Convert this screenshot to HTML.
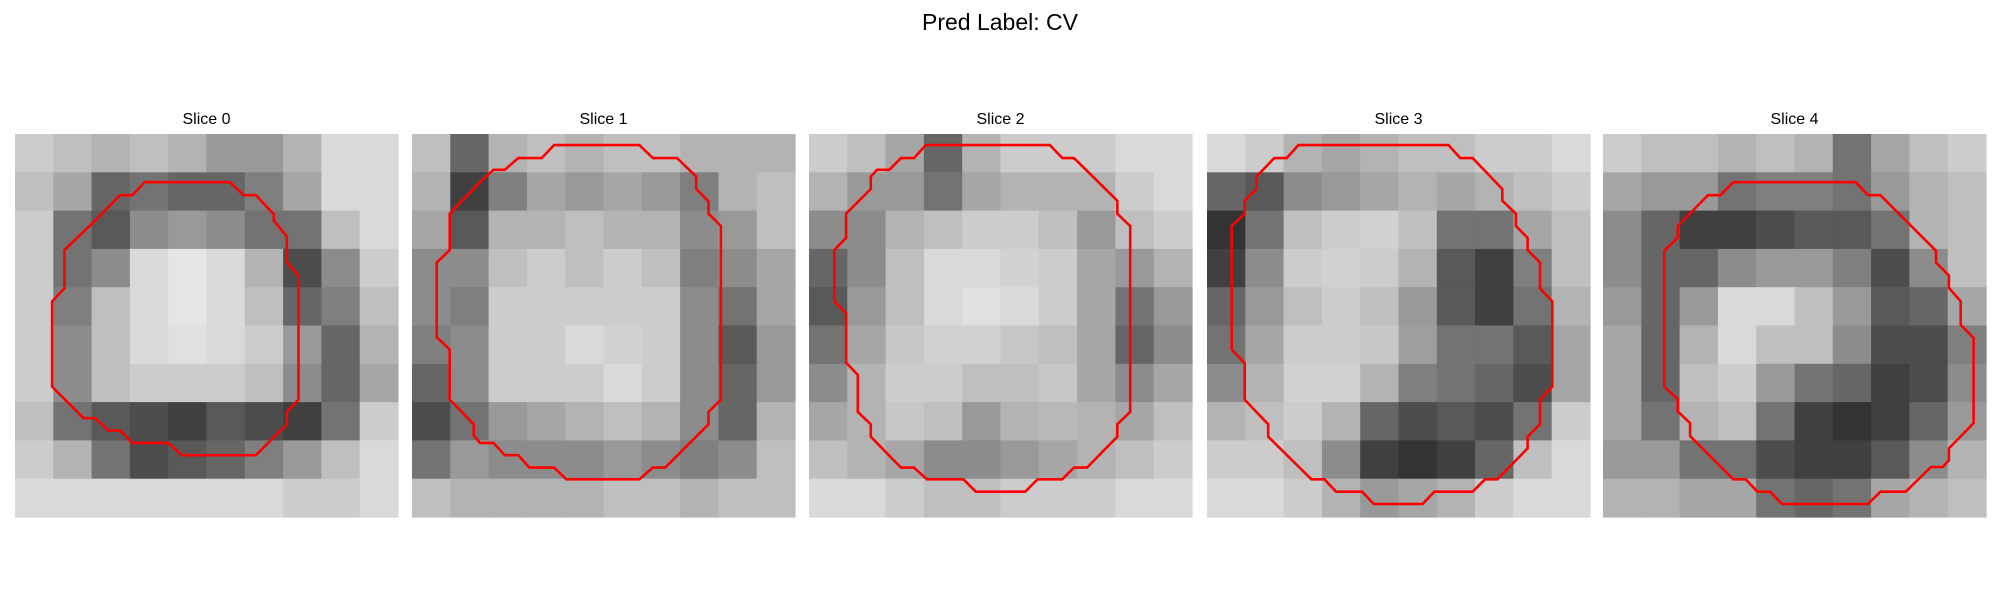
<!DOCTYPE html>
<html><head><meta charset="utf-8">
<style>
html,body{margin:0;padding:0;background:#fff;}
svg{display:block;font-family:"Liberation Sans","DejaVu Sans",sans-serif;}
</style></head>
<body>
<svg id="fig" width="2000" height="600" viewBox="0 0 2000 600">
<text x="1000" y="30" text-anchor="middle" font-size="23" fill="#000">Pred Label: CV</text>
<g id="panels"></g>
</svg>
<script>
const sliceTitles = ["Slice 0","Slice 1","Slice 2","Slice 3","Slice 4"];
// coarse 10x10 brightness grids (0=black,100=white)
const img0 = [
[80,75,70,75,70,60,60,70,85,85],[75,65,40,45,40,40,50,65,85,85],[80,45,35,55,60,55,45,45,75,85],
[80,45,55,85,90,85,70,30,55,80],[80,50,75,85,90,85,75,40,50,75],[80,55,75,85,88,85,80,60,40,70],
[80,55,75,80,80,80,75,55,40,65],[75,45,35,30,25,35,30,25,45,80],[80,70,45,30,35,40,50,60,75,85],
[85,85,85,85,85,85,85,80,80,85]];
const img1 = [
[75,40,70,75,70,75,75,70,70,70],[70,25,50,65,60,65,60,50,70,75],[65,35,70,70,75,70,70,55,60,75],
[55,55,75,80,75,80,75,50,55,65],[55,50,80,80,80,80,80,55,45,65],[50,55,80,80,85,82,80,55,35,60],
[40,55,80,80,80,85,80,55,40,60],[30,45,60,65,70,75,70,55,40,70],[45,60,55,55,55,60,55,50,55,75],
[75,70,70,70,70,75,75,70,75,75]];
const img2 = [
[80,75,65,40,70,80,80,80,85,85],[70,60,60,45,65,70,70,70,80,85],[55,55,70,75,80,80,75,60,75,80],
[40,55,75,85,85,82,80,65,60,70],[35,60,75,85,88,85,80,65,45,60],[45,65,78,82,82,78,75,65,40,55],
[55,70,80,80,75,75,78,65,55,65],[65,70,78,75,60,70,72,70,65,75],[75,70,65,55,55,60,65,70,75,80],
[85,85,80,75,75,80,80,80,85,85]];
const img3 = [
[85,80,70,65,70,75,75,80,80,85],[40,35,55,60,65,70,65,70,75,80],[20,45,75,80,82,75,45,45,65,75],
[25,55,80,82,80,70,35,25,50,75],[40,60,75,80,75,60,35,25,45,70],[45,65,80,80,78,62,45,45,35,65],
[55,70,82,82,70,50,45,40,30,65],[70,75,80,70,40,30,35,30,45,80],[80,80,75,55,25,20,25,40,75,85],
[85,85,80,70,60,65,70,80,85,85]];
const img4 = [
[80,75,75,70,75,70,45,65,75,80],[65,60,60,45,50,50,45,60,70,75],[55,40,25,25,30,35,35,45,70,75],
[55,40,40,55,60,60,50,30,55,75],[60,40,60,85,85,75,60,35,40,65],[65,40,70,85,75,75,55,30,30,50],
[65,40,75,80,60,45,40,25,30,55],[65,45,70,75,45,25,20,25,40,60],[60,60,45,45,30,25,25,35,55,70],
[70,70,65,65,45,40,45,65,70,75]];
// contour vertices in 31x31 pixel-grid units [col,row]
const contour0 = [[10.5,3.9],[17.4,3.9],[18.5,4.95],[19.5,4.95],[20.95,6.5],[20.95,7],[22,8.3],[22,10.4],[22.95,11.45],[22.95,21.5],[22,22.5],[22,23.5],[19.5,26],[13.5,26],[12.4,25],[9.5,25],[8.5,24],[7.55,24],[6.5,23],[5.55,23],[3,20.45],[3,13.55],[4,12.5],[4,9.4],[6.5,7],[8.5,4.95],[9.5,4.95]];
const contour1 = [[11.5,0.9],[18.4,0.9],[19.5,1.95],[21.45,1.95],[23,3.45],[23,4.45],[24,5.45],[24,6.45],[25,7.45],[25,21.5],[24,22.5],[24,23.5],[20.5,27],[19.5,27],[18.4,27.95],[12.5,27.95],[11.5,27],[9.5,27],[8.6,26],[7.5,26],[6.6,25],[5.5,25],[5,24.4],[5,23.5],[3.05,21.5],[3.05,17.45],[2,16.45],[2,10.4],[3.05,9.4],[3.05,6.45],[5.5,3.9],[6.6,2.9],[7.5,2.9],[8.6,1.95],[10.5,1.95]];
const contour2 = [[9.45,0.9],[19.5,0.9],[20.5,1.95],[21.45,1.95],[24.95,5.4],[24.95,6.45],[26,7.45],[26,22.5],[24.95,23.5],[24.95,24.5],[22.5,27],[21.45,27],[20.5,27.95],[18.5,27.95],[17.5,28.95],[13.5,28.95],[12.5,27.95],[9.55,27.95],[8.5,27],[7.45,27],[5,24.5],[5,23.5],[3.95,22.5],[3.95,19.5],[3,18.5],[3,14.5],[2.05,13.55],[2.05,9.4],[3,8.4],[3,6.45],[5,4.45],[5,3.45],[5.5,2.9],[6.5,2.9],[7.45,1.95],[8.5,1.95]];
const contour3 = [[7.4,0.9],[19.55,0.9],[20.5,1.95],[21.5,1.95],[23.9,4.45],[23.9,5.4],[25,6.45],[25,7.45],[25.95,8.4],[25.95,9.4],[26.95,10.4],[26.95,12.5],[27.95,13.55],[27.95,20.45],[26.95,21.5],[26.95,23.5],[25.95,24.5],[25.95,25.45],[23.5,27.95],[22.5,27.95],[21.5,28.95],[18.4,28.95],[17.45,29.95],[13.5,29.95],[12.55,28.95],[10.45,28.95],[9.5,27.95],[8.45,27.95],[4.95,24.5],[4.95,23.5],[4,22.5],[3.05,21.5],[3.05,18.55],[2,17.45],[2,7.45],[3.05,6.45],[3.05,5.4],[4,4.45],[4,3.45],[5.45,1.95],[6.45,1.95]];
const contour4 = [[10.55,3.9],[20.45,3.9],[21.45,4.95],[22.45,4.95],[26.95,9.45],[26.95,10.4],[28,11.45],[28,12.45],[28.95,13.55],[28.95,15.45],[30,16.5],[30,23.4],[28,25.45],[28,26.4],[27.5,26.95],[26.55,26.95],[24.5,28.95],[22.45,28.95],[21.45,29.95],[14.5,29.95],[13.5,28.95],[12.5,28.95],[11.55,27.95],[10.55,27.95],[7.05,24.45],[7.05,23.4],[6.05,22.45],[6.05,21.45],[4.95,20.45],[4.95,9.45],[6.05,8.4],[6.05,7.45],[8.5,4.95],[9.5,4.95]];

const images = [img0,img1,img2,img3,img4];
const contours = [contour0,contour1,contour2,contour3,contour4];
const panelX = [15,412,809,1207,1603];
const panelY = 134, panelS = 383, gridN = 31;
const NS = "http://www.w3.org/2000/svg";
const root = document.getElementById('panels');
function mk(tag, attrs){const e=document.createElementNS(NS,tag);for(const k in attrs)e.setAttribute(k,attrs[k]);return e;}
images.forEach((im,i)=>{
  const g = mk('g',{});
  
  
  const t = mk('text',{x:panelX[i]+panelS/2,y:124,'text-anchor':'middle','font-size':'16',fill:'#000'});
  t.textContent = sliceTitles[i];
  
  
  g.appendChild(t);
  const rows = im.length, cols = im[0].length;
  const cw = panelS/cols, ch = panelS/rows;
  im.forEach((row,r)=>row.forEach((v,c)=>{
    const gv = Math.round(v*2.55);
    const rect = mk('rect',{x:(panelX[i]+c*cw).toFixed(2),y:(panelY+r*ch).toFixed(2),width:(cw+0.6).toFixed(2),height:(ch+0.6).toFixed(2),fill:`rgb(${gv},${gv},${gv})`});
    
    
    g.appendChild(rect);
  }));
  const sc = panelS/gridN;
  const pts = contours[i].map(p=>(panelX[i]+p[0]*sc).toFixed(1)+','+(panelY+p[1]*sc).toFixed(1)).join(' ');
  const pl = mk('polygon',{points:pts,fill:'none',stroke:'#ff0000','stroke-width':'2.6','stroke-linejoin':'miter'});
  
  
  g.appendChild(pl);
  root.appendChild(g);
});
</script>
</body></html>
